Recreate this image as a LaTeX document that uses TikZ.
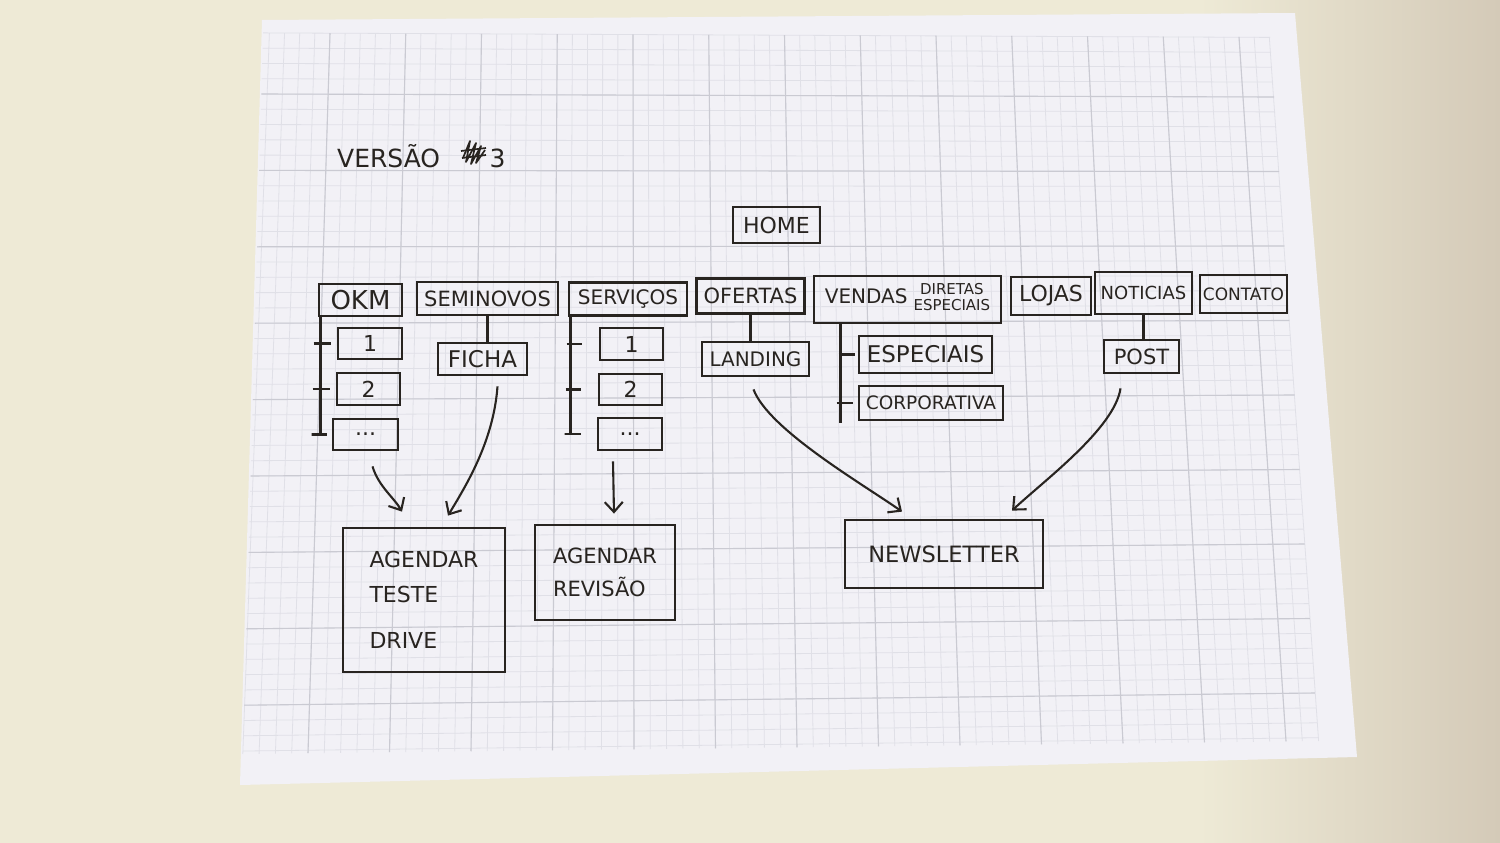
\documentclass[tikz,border=0pt]{standalone}
\usepackage{fontspec}
\setmainfont{DejaVu Sans}
\usetikzlibrary{positioning, arrows.meta, calc}

\definecolor{ink}{RGB}{40,36,32}
\definecolor{deskL}{RGB}{238,234,214}
\definecolor{deskR}{RGB}{212,202,184}
\definecolor{paper}{RGB}{242,241,246}
\definecolor{gridminor}{RGB}{224,224,231}
\definecolor{gridmajor}{RGB}{202,202,210}

\begin{document}
\begin{tikzpicture}[
    x=1pt, y=-1pt,
    box/.style={draw=ink, line width=2.8pt, inner sep=0pt, text=ink},
    hand/.style={font={\fontsize{#1}{#1}\selectfont}},
    link/.style={draw=ink, line width=2.3pt},
    arrow/.style={-{Straight Barb[length=10pt, width=18pt]}, draw=ink, line width=2.1pt}]

    \useasboundingbox (0,0) rectangle (1500,843);

    % Desk and sheet
    \fill[deskL] (0,0) rectangle (1200,843);
    \shade[left color=deskL, right color=deskR] (1199,0) rectangle (1500,843);
    \fill[paper] (262,20) -- (1295,13) -- (1357,757) -- (240,785) -- cycle;

    % Grid
    \foreach \i in {-4,...,62} {
        \draw[gridminor, line width=0.8pt] ({330+15.15*\i},{33+4*(\i+4)/66}) -- ({308+16.3*\i},{754-13*(\i+4)/66});
    }
    \foreach \j in {-4,...,43} {
        \draw[gridminor, line width=0.8pt] ({263-20*(\j+4)/47},{94+15.28*\j}) -- ({1270+48*(\j+4)/47},{97+14.9*\j});
    }
    \foreach \i in {0,5,...,60} {
        \draw[gridmajor, line width=1.1pt] ({330+15.15*\i},{33+4*(\i+4)/66}) -- ({308+16.3*\i},{754-13*(\i+4)/66});
    }
    \foreach \j in {0,5,...,40} {
        \draw[gridmajor, line width=1.1pt] ({263-20*(\j+4)/47},{94+15.28*\j}) -- ({1270+48*(\j+4)/47},{97+14.9*\j});
    }

    % Title
    \node[anchor=base west, inner sep=0pt, text=ink, hand=25] (title) at (337,167) {VERSÃO};
    \draw[ink, line width=1.7pt, line join=round] (463,158) -- (470,141) -- (466,162) -- (476,143) -- (471,164) -- (481,146) -- (476,163) -- (485,150);
    \draw[ink, line width=1.7pt] (461,151) -- (486,148) (462,158) -- (486,155);
    \node[base right=49pt of title.base east, inner sep=0pt, text=ink, hand=25] (vnum) {3};

    % Home
    \node[box, hand=22, minimum width=87pt, minimum height=36pt] (home) at (776.5,225) {HOME};

    % Top menu
    \node[box, hand=26, minimum width=83pt, minimum height=32pt] (okm) at (360.5,300) {OKM};
    \node[box, hand=21, minimum width=141pt, minimum height=33pt] (semi) at (487.5,298.5) {SEMINOVOS};
    \node[box, hand=20, minimum width=118pt, minimum height=33pt] (serv) at (628,299) {SERVIÇOS};
    \node[box, hand=21, minimum width=108pt, minimum height=35pt] (ofertas) at (750.5,296) {OFERTAS};
    \node[box, minimum width=187pt, minimum height=47pt] (vendas) at (907.5,299.5)
        {{\fontsize{20}{20}\selectfont VENDAS}\hspace{6pt}{\fontsize{15}{16}\selectfont\begin{tabular}[c]{@{}c@{}}DIRETAS\\ESPECIAIS\end{tabular}}};
    \node[box, hand=22, minimum width=80pt, minimum height=38pt] (lojas) at (1051,296) {LOJAS};
    \node[box, hand=18, minimum width=97pt, minimum height=42pt] (noticias) at (1143.5,293) {NOTICIAS};
    \node[box, hand=17, minimum width=87pt, minimum height=38pt] (contato) at (1243.5,294) {CONTATO};

    % OKM pages
    \node[box, hand=22, minimum width=64pt, minimum height=31pt] (okm1) at (370,343.5) {1};
    \node[box, hand=22, minimum width=63pt, minimum height=32pt] (okm2) at (368.5,389) {2};
    \node[box, hand=22, minimum width=65pt, minimum height=31pt] (okmdots) at (365.5,434.5) {...};
    \draw[link] ($(okm.south west)+(3,0)$) |- ($(okmdots.west)+(-20,0)$) -- ++(15,0);
    \draw[link] ($(okm1.west)+(-23,0)$) -- ++(17,0);
    \draw[link] ($(okm2.west)+(-23,0)$) -- ++(17,0);

    % Seminovos page
    \node[box, hand=23, minimum width=89pt, minimum height=32pt] (ficha) at (482.5,359) {FICHA};
    \draw[link] (semi.south) -- (semi.south |- ficha.north);

    % Servicos pages
    \node[box, hand=22, minimum width=63pt, minimum height=32pt] (serv1) at (631.5,344) {1};
    \node[box, hand=22, minimum width=63pt, minimum height=31pt] (serv2) at (630.5,389.5) {2};
    \node[box, hand=22, minimum width=64pt, minimum height=32pt] (servdots) at (630,434) {...};
    \draw[link] ($(serv.south west)+(3,0)$) |- ($(servdots.west)+(-32,0)$) -- ++(16,0);
    \draw[link] ($(serv1.west)+(-32,0)$) -- ++(15,0);
    \draw[link] ($(serv2.west)+(-32,0)$) -- ++(15,0);

    % Ofertas page
    \node[box, hand=20, minimum width=107pt, minimum height=34pt] (landing) at (755.5,359) {LANDING};
    \draw[link] (ofertas.south) -- (ofertas.south |- landing.north);

    % Vendas pages
    \node[box, hand=23, minimum width=133pt, minimum height=37pt] (especiais) at (925.5,354.5) {ESPECIAIS};
    \node[box, hand=18.5, minimum width=144pt, minimum height=34pt] (corp) at (931,403) {CORPORATIVA};
    \draw[link] ($(vendas.south west)+(28,0)$) -- ($(corp.west)+(-17,20)$);
    \draw[link] ($(especiais.west)+(-19,0)$) -- ++(16,0);
    \draw[link] ($(corp.west)+(-21,0)$) -- ++(16,0);

    % Noticias page
    \node[box, hand=21, minimum width=75pt, minimum height=33pt] (post) at (1141.5,356.5) {POST};
    \draw[link] (noticias.south) -- (noticias.south |- post.north);

    % Actions
    \node[box, font={\fontsize{22}{35}\selectfont}, align=left, minimum width=162pt, minimum height=144pt] (agteste) at (424,600)
        {AGENDAR\\TESTE\\[11pt]DRIVE};
    \node[box, font={\fontsize{21}{33}\selectfont}, align=left, minimum width=140pt, minimum height=95pt] (agrev) at (605,572.5)
        {AGENDAR\\REVISÃO};
    \node[box, hand=22.5, minimum width=198pt, minimum height=68pt] (news) at (944,554) {NEWSLETTER};

    % Arrows
    \draw[arrow] ($(okmdots.south)+(7,15)$) .. controls +(6,20) and +(-8,-14) .. ($(agteste.north)+(-22,-15)$);
    \draw[arrow] ($(ficha.south)+(15,10)$) .. controls +(-4,55) and +(18,-30) .. ($(agteste.north)+(24,-11)$);
    \draw[arrow] ($(servdots.south)+(-17,10)$) -- ($(agrev.north)+(9,-10)$);
    \draw[arrow] ($(landing.south)+(-2,12)$) .. controls +(15,40) and +(-40,-28) .. ($(news.north)+(-42,-7)$);
    \draw[arrow] ($(post.south)+(-21,14)$) .. controls +(-6,40) and +(32,-30) .. ($(news.north)+(68,-8)$);

\end{tikzpicture}
\end{document}
